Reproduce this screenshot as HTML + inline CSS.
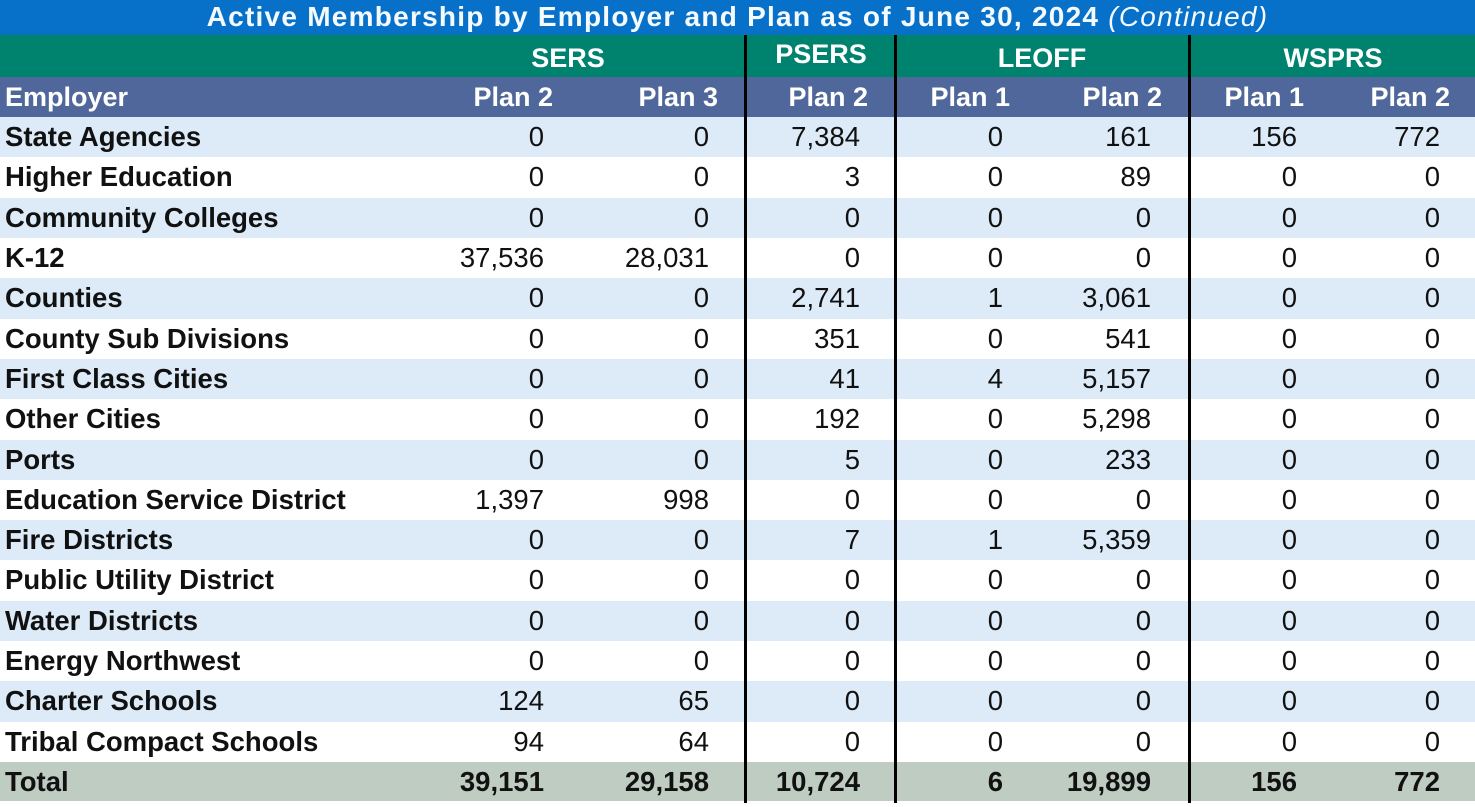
<!DOCTYPE html>
<html>
<head>
<meta charset="utf-8">
<style>
html,body{margin:0;padding:0;}
body{width:1475px;height:807px;position:relative;overflow:hidden;background:#fff;font-family:"Liberation Sans",Arial,sans-serif;}
.title{position:absolute;left:0;top:0;width:1475px;height:35px;background:#0771C9;color:#F4FAFF;font-size:28px;font-weight:bold;line-height:34px;text-align:center;letter-spacing:1.25px;white-space:nowrap;}
.title i{font-weight:normal;}
.grp{position:absolute;left:0;top:35px;width:1475px;height:42px;background:#00836E;}
.hdr{position:absolute;left:0;top:77px;width:1475px;height:40px;background:#50679B;}
.g{position:absolute;color:#fff;font-weight:bold;font-size:27px;line-height:30px;white-space:nowrap;transform:translateX(-50%);}
.h{position:absolute;top:0;color:#fff;font-weight:bold;font-size:27px;line-height:40px;white-space:nowrap;}
.row{position:absolute;left:0;width:1475px;height:40.4px;}
.l{background:#DDEBF8;}
.w{background:#FFFFFF;}
.tot{background:#BFCCC1;}
.row span{position:absolute;top:0;line-height:40px;font-size:27.5px;color:#111;white-space:nowrap;}
.row span.lab{left:5px;font-weight:bold;}
.tot span{font-weight:bold;}
.n1{right:931px}.n2{right:766px}.n3{right:615px}.n4{right:472px}.n5{right:324px}.n6{right:178px}.n7{right:35px}
.vl{position:absolute;top:35px;height:768px;width:3.5px;background:#000;}
</style>
</head>
<body>
<div class="title">Active Membership by Employer and Plan as of June 30, 2024 <i>(Continued)</i></div>
<div class="grp">
  <div class="g" style="left:568px;top:8px;">SERS</div>
  <div class="g" style="left:821px;top:4px;">PSERS</div>
  <div class="g" style="left:1042px;top:8px;">LEOFF</div>
  <div class="g" style="left:1333px;top:8px;">WSPRS</div>
</div>
<div class="hdr">
  <div class="h" style="left:5px;">Employer</div>
  <div class="h" style="right:922px;">Plan 2</div>
  <div class="h" style="right:757px;">Plan 3</div>
  <div class="h" style="right:607px;">Plan 2</div>
  <div class="h" style="right:465px;">Plan 1</div>
  <div class="h" style="right:313px;">Plan 2</div>
  <div class="h" style="right:171px;">Plan 1</div>
  <div class="h" style="right:25px;">Plan 2</div>
</div>

<div class="row l" style="top:117px;"><span class="lab">State Agencies</span><span class="n1">0</span><span class="n2">0</span><span class="n3">7,384</span><span class="n4">0</span><span class="n5">161</span><span class="n6">156</span><span class="n7">772</span></div>
<div class="row w" style="top:157.3px;"><span class="lab">Higher Education</span><span class="n1">0</span><span class="n2">0</span><span class="n3">3</span><span class="n4">0</span><span class="n5">89</span><span class="n6">0</span><span class="n7">0</span></div>
<div class="row l" style="top:197.6px;"><span class="lab">Community Colleges</span><span class="n1">0</span><span class="n2">0</span><span class="n3">0</span><span class="n4">0</span><span class="n5">0</span><span class="n6">0</span><span class="n7">0</span></div>
<div class="row w" style="top:237.9px;"><span class="lab">K-12</span><span class="n1">37,536</span><span class="n2">28,031</span><span class="n3">0</span><span class="n4">0</span><span class="n5">0</span><span class="n6">0</span><span class="n7">0</span></div>
<div class="row l" style="top:278.2px;"><span class="lab">Counties</span><span class="n1">0</span><span class="n2">0</span><span class="n3">2,741</span><span class="n4">1</span><span class="n5">3,061</span><span class="n6">0</span><span class="n7">0</span></div>
<div class="row w" style="top:318.6px;"><span class="lab">County Sub Divisions</span><span class="n1">0</span><span class="n2">0</span><span class="n3">351</span><span class="n4">0</span><span class="n5">541</span><span class="n6">0</span><span class="n7">0</span></div>
<div class="row l" style="top:358.9px;"><span class="lab">First Class Cities</span><span class="n1">0</span><span class="n2">0</span><span class="n3">41</span><span class="n4">4</span><span class="n5">5,157</span><span class="n6">0</span><span class="n7">0</span></div>
<div class="row w" style="top:399.2px;"><span class="lab">Other Cities</span><span class="n1">0</span><span class="n2">0</span><span class="n3">192</span><span class="n4">0</span><span class="n5">5,298</span><span class="n6">0</span><span class="n7">0</span></div>
<div class="row l" style="top:439.5px;"><span class="lab">Ports</span><span class="n1">0</span><span class="n2">0</span><span class="n3">5</span><span class="n4">0</span><span class="n5">233</span><span class="n6">0</span><span class="n7">0</span></div>
<div class="row w" style="top:479.8px;"><span class="lab">Education Service District</span><span class="n1">1,397</span><span class="n2">998</span><span class="n3">0</span><span class="n4">0</span><span class="n5">0</span><span class="n6">0</span><span class="n7">0</span></div>
<div class="row l" style="top:520.1px;"><span class="lab">Fire Districts</span><span class="n1">0</span><span class="n2">0</span><span class="n3">7</span><span class="n4">1</span><span class="n5">5,359</span><span class="n6">0</span><span class="n7">0</span></div>
<div class="row w" style="top:560.4px;"><span class="lab">Public Utility District</span><span class="n1">0</span><span class="n2">0</span><span class="n3">0</span><span class="n4">0</span><span class="n5">0</span><span class="n6">0</span><span class="n7">0</span></div>
<div class="row l" style="top:600.7px;"><span class="lab">Water Districts</span><span class="n1">0</span><span class="n2">0</span><span class="n3">0</span><span class="n4">0</span><span class="n5">0</span><span class="n6">0</span><span class="n7">0</span></div>
<div class="row w" style="top:641px;"><span class="lab">Energy Northwest</span><span class="n1">0</span><span class="n2">0</span><span class="n3">0</span><span class="n4">0</span><span class="n5">0</span><span class="n6">0</span><span class="n7">0</span></div>
<div class="row l" style="top:681.3px;"><span class="lab">Charter Schools</span><span class="n1">124</span><span class="n2">65</span><span class="n3">0</span><span class="n4">0</span><span class="n5">0</span><span class="n6">0</span><span class="n7">0</span></div>
<div class="row w" style="top:721.6px;"><span class="lab">Tribal Compact Schools</span><span class="n1">94</span><span class="n2">64</span><span class="n3">0</span><span class="n4">0</span><span class="n5">0</span><span class="n6">0</span><span class="n7">0</span></div>
<div class="row tot" style="top:762px;height:39px;"><span class="lab">Total</span><span class="n1">39,151</span><span class="n2">29,158</span><span class="n3">10,724</span><span class="n4">6</span><span class="n5">19,899</span><span class="n6">156</span><span class="n7">772</span></div>

<div class="vl" style="left:743.5px;"></div>
<div class="vl" style="left:893.5px;"></div>
<div class="vl" style="left:1187.5px;"></div>
</body>
</html>
